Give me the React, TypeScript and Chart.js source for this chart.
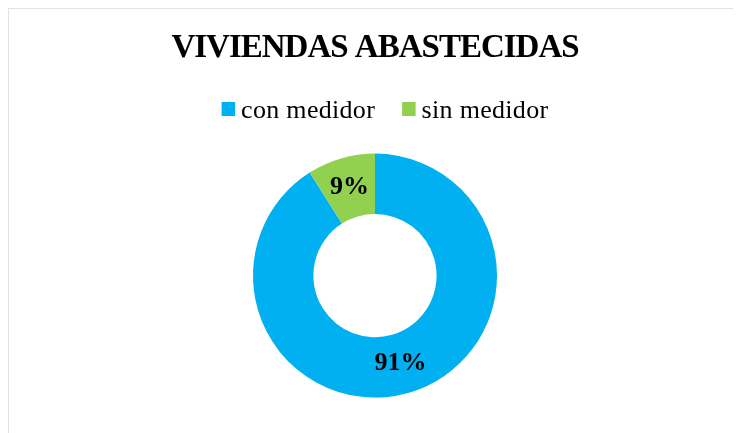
import React, { useEffect, useRef } from "react";
import { Chart, registerables } from "chart.js";

Chart.register(...registerables);

const TITLE = "VIVIENDAS ABASTECIDAS";
const categories = ["con medidor", "sin medidor"];
const values = [91, 9];
const colors = ["#00B0F0", "#92D050"];
const valueLabels = ["91%", "9%"];

const FONT = "'Liberation Serif', 'Times New Roman', serif";

export default function App() {
  const ref = useRef<HTMLCanvasElement>(null);

  useEffect(() => {
    const canvas = ref.current;
    if (!canvas) return;

    const spacingPlugin = {
      id: "titleSpacing",
      beforeDraw(chart: any) {
        chart.ctx.letterSpacing = "-1px";
      },
      beforeDatasetsDraw(chart: any) {
        chart.ctx.letterSpacing = "0px";
      },
    };

    const labelsPlugin = {
      id: "labelsAndLegend",
      afterDraw(chart: any) {
        const ctx = chart.ctx as CanvasRenderingContext2D;
        ctx.save();
        // data labels
        const meta = chart.getDatasetMeta(0);
        ctx.font = `bold 26px ${FONT}`;
        ctx.fillStyle = "#000";
        ctx.textAlign = "center";
        ctx.textBaseline = "middle";
        (ctx as any).letterSpacing = "0px";
        meta.data.forEach((arc: any, i: number) => {
          const p = arc.tooltipPosition();
          ctx.fillText(valueLabels[i], p.x, p.y);
        });
        // legend
        ctx.font = `26px ${FONT}`;
        (ctx as any).letterSpacing = "0.3px";
        ctx.textAlign = "left";
        ctx.textBaseline = "alphabetic";
        const box = 13.5;
        const gap = 6;
        const itemGap = 27;
        const widths = categories.map((c) => ctx.measureText(c).width);
        const total =
          widths.reduce((a, w) => a + box + gap + w, 0) +
          itemGap * (categories.length - 1);
        let x =
          (chart.chartArea.left + chart.chartArea.right) / 2 + 10 - total / 2;
        const baseline = 108.5;
        categories.forEach((c, i) => {
          ctx.fillStyle = colors[i];
          ctx.fillRect(x, baseline - 15.5, box, 14);
          x += box + gap;
          ctx.fillStyle = "#000";
          ctx.fillText(c, x, baseline);
          x += widths[i] + itemGap;
        });
        ctx.restore();
      },
    };

    const chart = new Chart(canvas, {
      type: "doughnut",
      data: {
        labels: categories,
        datasets: [
          {
            data: values,
            backgroundColor: colors,
            borderWidth: 0,
            radius: 122,
            cutout: "50.5%",
          } as any,
        ],
      },
      options: {
        responsive: false,
        animation: false,
        devicePixelRatio: 1,
        layout: { padding: 0 },
        plugins: {
          legend: { display: false },
          tooltip: { enabled: false },
          title: {
            display: true,
            text: TITLE,
            color: "#000",
            font: { family: FONT, size: 33, weight: "bold" },
            padding: { top: 20, bottom: 49.6 },
          },
        },
      } as any,
      plugins: [spacingPlugin, labelsPlugin],
    });

    return () => {
      chart.destroy();
    };
  }, []);

  return (
    <div
      style={{
        width: 733,
        height: 425,
        boxSizing: "border-box",
        borderTop: "1px solid #dde3ea",
        borderLeft: "1px solid #dde3ea",
        background: "#fff",
      }}
    >
      <canvas ref={ref} width={732} height={424} style={{ display: "block" }} />
    </div>
  );
}
